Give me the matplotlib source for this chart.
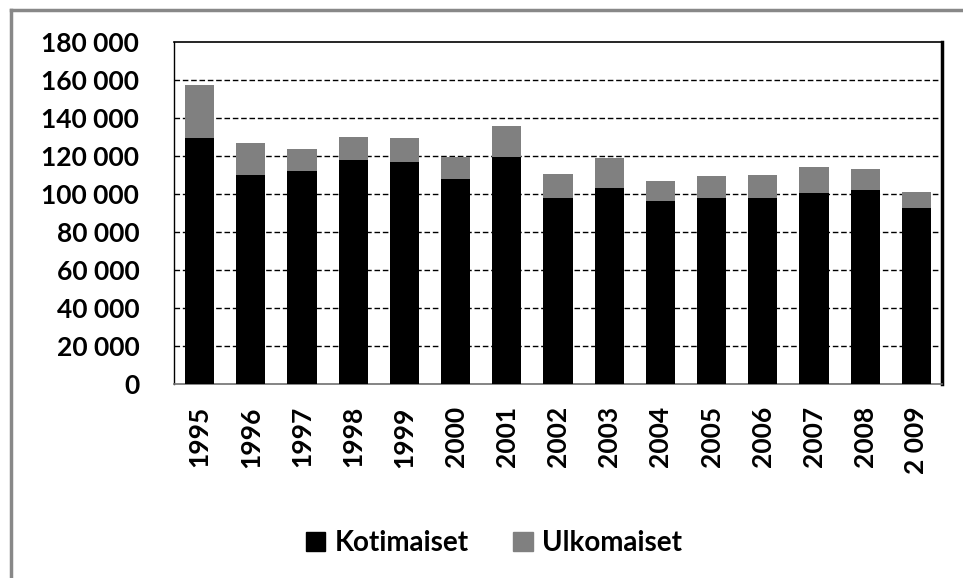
import matplotlib.pyplot as plt
from matplotlib.lines import Line2D
from matplotlib.patches import Patch

years = ['1995', '1996', '1997', '1998', '1999', '2000', '2001', '2002',
         '2003', '2004', '2005', '2006', '2007', '2008', '2 009']
kotimaiset = [129500, 110000, 112100, 117900, 116800, 107900, 119500, 97900,
              103200, 96300, 97900, 97900, 100500, 102100, 92600]
ulkomaiset = [27900, 16800, 11600, 12100, 12700, 11700, 16300, 12600,
              15700, 10500, 11600, 12100, 13700, 11100, 8400]
yticks = [0, 20000, 40000, 60000, 80000, 100000, 120000, 140000, 160000, 180000]

font = 'Lato'
plt.rcParams['font.family'] = [font, 'DejaVu Sans']

fig = plt.figure(figsize=(9.63, 5.78), dpi=100)
ax = fig.add_axes([174/963, 1 - 384/578, (942-174)/963, (384-42)/578])

x = range(len(years))
ax.bar(x, kotimaiset, width=0.57, color='black', zorder=3, label='Kotimaiset')
ax.bar(x, ulkomaiset, width=0.57, bottom=kotimaiset, color='#808080', zorder=3, label='Ulkomaiset')

ax.set_xlim(-0.5, len(years) - 0.5)
ax.set_ylim(0, 180000)
ax.set_yticks(yticks)
ax.set_yticklabels([('%d' % v) if v < 1000 else '{:,}'.format(v).replace(',', ' ') for v in yticks],
                   fontsize=19, fontweight='bold')
ax.set_xticks(list(x))
ax.set_xticklabels(years, rotation=90, fontsize=19, fontweight='bold')
ax.tick_params(axis='y', length=0, pad=25)
ax.tick_params(axis='x', length=0, pad=16)

for v in yticks[1:-1]:
    ax.axhline(v, color='black', lw=1, ls=(0, (4, 2)), zorder=1)

ax.spines['left'].set_color('black')
ax.spines['left'].set_linewidth(1)
ax.spines['top'].set_linewidth(1.2)
ax.spines['right'].set_linewidth(2.5)
ax.spines['bottom'].set_color('#707070')
ax.spines['bottom'].set_linewidth(1.2)

handles = [Patch(color='black'), Patch(color='#808080')]
fig.legend(handles, ['Kotimaiset', 'Ulkomaiset'], loc='center', bbox_to_anchor=(494/963, 1 - 543/578),
           ncol=2, frameon=False, prop={'family': font, 'size': 20, 'weight': 'bold'},
           handlelength=0.7, handleheight=0.7, handletextpad=0.35, columnspacing=1.6)

# outer grey frame (top and left only visible)
fig.add_artist(Line2D([10.5/963, 1], [1 - 9.5/578, 1 - 9.5/578], color='#888888', lw=2.5, transform=fig.transFigure))
fig.add_artist(Line2D([10.5/963, 10.5/963], [0, 1 - 9.5/578], color='#888888', lw=2.5, transform=fig.transFigure))

fig.savefig('out.png', dpi=100)
